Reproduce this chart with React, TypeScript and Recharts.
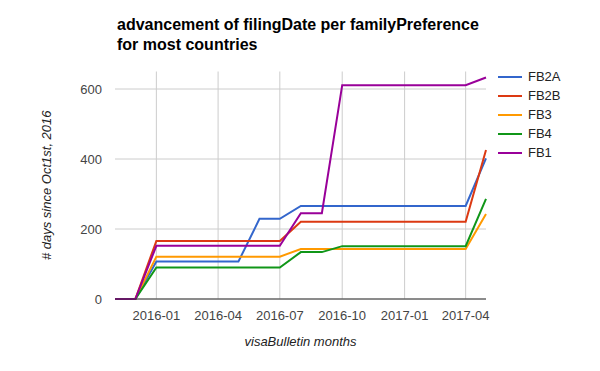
import { LineChart, Line, XAxis, YAxis, CartesianGrid, Label } from 'recharts'

// visa bulletin months, 2015-11 .. 2017-05
const months = [
  '2015-11', '2015-12', '2016-01', '2016-02', '2016-03', '2016-04', '2016-05',
  '2016-06', '2016-07', '2016-08', '2016-09', '2016-10', '2016-11', '2016-12',
  '2017-01', '2017-02', '2017-03', '2017-04', '2017-05',
]

const fb2a = [0, 0, 107, 107, 107, 107, 107, 229, 229, 266, 266, 266, 266, 266, 266, 266, 266, 266, 402]
const fb2b = [0, 0, 166, 166, 166, 166, 166, 166, 166, 221, 221, 221, 221, 221, 221, 221, 221, 221, 426]
const fb3 = [0, 0, 121, 121, 121, 121, 121, 121, 121, 143, 143, 143, 143, 143, 143, 143, 143, 143, 243]
const fb4 = [0, 0, 90, 90, 90, 90, 90, 90, 90, 134, 134, 151, 151, 151, 151, 151, 151, 151, 286]
const fb1 = [0, 0, 152, 152, 152, 152, 152, 152, 152, 245, 245, 611, 611, 611, 611, 611, 611, 611, 633]

const xTicks = ['2016-01', '2016-04', '2016-07', '2016-10', '2017-01', '2017-04']
const yTicks = [0, 200, 400, 600]

const series = [
  { key: 'FB2A', values: fb2a, color: '#3366cc' },
  { key: 'FB2B', values: fb2b, color: '#dc3912' },
  { key: 'FB3', values: fb3, color: '#ff9900' },
  { key: 'FB4', values: fb4, color: '#109618' },
  { key: 'FB1', values: fb1, color: '#990099' },
]

const toTime = (m: string) => {
  const [y, mo] = m.split('-').map(Number)
  return Date.UTC(y, mo - 1, 1)
}

const fmtMonth = (t: number) => {
  const d = new Date(t)
  return `${d.getUTCFullYear()}-${String(d.getUTCMonth() + 1).padStart(2, '0')}`
}

const data = months.map((m, i) => {
  const row: Record<string, number> = { t: toTime(m) }
  for (const s of series) row[s.key] = s.values[i]
  return row
})

const font = 'Arial, "Liberation Sans", sans-serif'

function LegendBox() {
  return (
    <div
      style={{
        position: 'absolute',
        left: 498,
        top: 67,
        fontFamily: font,
        fontSize: 13,
        color: '#222',
      }}
    >
      {series.map((s) => (
        <div key={s.key} style={{ display: 'flex', alignItems: 'center', height: 19 }}>
          <span style={{ display: 'inline-block', width: 24, height: 2, background: s.color, marginRight: 6 }} />
          <span>{s.key}</span>
        </div>
      ))}
    </div>
  )
}

export default function App() {
  return (
    <div style={{ position: 'absolute', left: 0, top: 0, width: 600, height: 371, background: '#fff' }}>
      <div
        style={{
          position: 'absolute',
          left: 117,
          top: 15,
          fontFamily: font,
          fontWeight: 'bold',
          fontSize: 16,
          lineHeight: '20px',
          color: '#000',
          zIndex: 2,
        }}
      >
        advancement of filingDate per familyPreference
        <br />
        for most countries
      </div>
      <LegendBox />
      <LineChart
        width={600}
        height={371}
        data={data}
        margin={{ top: 71.5, right: 114, bottom: 42, left: 0 }}
      >
        <CartesianGrid stroke="#cccccc" strokeWidth={1} syncWithTicks />
        <XAxis
          dataKey="t"
          type="number"
          scale="time"
          domain={[toTime('2015-11'), toTime('2017-05')]}
          ticks={xTicks.map(toTime)}
          tickFormatter={fmtMonth}
          tick={{ fill: '#444', fontSize: 13, fontFamily: font }}
          tickLine={false}
          tickMargin={6}
          axisLine={{ stroke: '#333', strokeWidth: 1 }}
          height={30}
        >
          <Label
            value="visaBulletin months"
            position="bottom"
            offset={8}
            fill="#222"
            fontSize={13}
            fontStyle="italic"
            fontFamily={font}
          />
        </XAxis>
        <YAxis
          type="number"
          domain={[0, 650]}
          ticks={yTicks}
          tick={{ fill: '#444', fontSize: 13, fontFamily: font }}
          tickLine={false}
          axisLine={false}
          tickMargin={7}
          width={115}
        >
          <Label
            value="# days since Oct1st, 2016"
            position="center"
            angle={-90}
            dx={-11}
            fill="#222"
            fontSize={13}
            fontStyle="italic"
            fontFamily={font}
          />
        </YAxis>
        {series.map((s) => (
          <Line
            key={s.key}
            dataKey={s.key}
            stroke={s.color}
            strokeWidth={2}
            dot={false}
            type="linear"
            isAnimationActive={false}
          />
        ))}
      </LineChart>
    </div>
  )
}
